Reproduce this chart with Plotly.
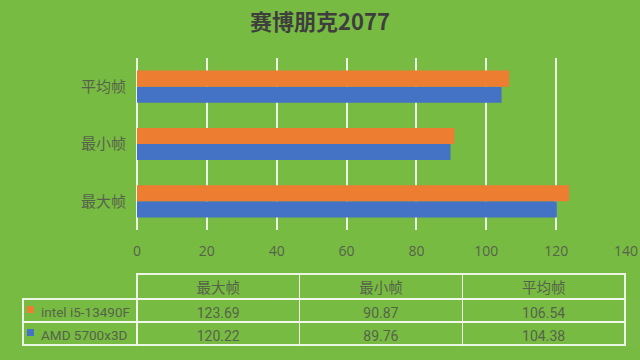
import plotly.graph_objects as go

categories = ["最大帧", "最小帧", "平均帧"]
series_names = ["intel i5-13490F", "AMD 5700x3D"]
series_colors = ["#ED7D31", "#4472C4"]
intel_values = [123.69, 90.87, 106.54]
amd_values = [120.22, 89.76, 104.38]
x_ticks = [0, 20, 40, 60, 80, 100, 120, 140]
title_text = "赛博朋克2077"

BG = "rgb(120,187,66)"
TXT = "#56634b"
LINE = "rgba(240,248,235,0.95)"
W, H = 640, 360

fig = go.Figure()
fig.add_trace(go.Bar(y=categories, x=amd_values, name=series_names[1], orientation="h",
                     marker=dict(color=series_colors[1], line=dict(width=0))))
fig.add_trace(go.Bar(y=categories, x=intel_values, name=series_names[0], orientation="h",
                     marker=dict(color=series_colors[0], line=dict(width=0))))

def fmt(v):
    return f"{v:.2f}"

label_col = ["\u00a0\u00a0\u00a0" + n.replace(" ", "\u00a0") for n in series_names]
cols = [label_col] + [[fmt(intel_values[i]), fmt(amd_values[i])] for i in range(len(categories))]

tbl_left, tbl_top, hdr_h, row_h = 23, 273, 25, 23
tbl_bottom = tbl_top + hdr_h + 2 * row_h

fig.add_trace(go.Table(
    domain=dict(x=[tbl_left / W, 625 / W], y=[1 - (tbl_bottom + 2) / H, 1 - (tbl_top + 1) / H]),
    columnwidth=[114, 163, 163, 163],
    header=dict(values=[""] + categories, height=hdr_h,
                fill=dict(color="rgba(0,0,0,0)"),
                line=dict(color=["rgba(0,0,0,0)", LINE, LINE, LINE], width=1.5),
                align="center",
                font=dict(family="Noto Sans CJK SC", size=14.5, color=TXT)),
    cells=dict(values=cols, height=row_h,
               fill=dict(color="rgba(0,0,0,0)"),
               line=dict(color=LINE, width=1.5),
               align=["left", "center", "center", "center"],
               font=dict(family="Roboto", size=[13.5, 14, 14, 14], color=TXT)),
))

# legend keys inside the table's first column
key = 7
for i, c in enumerate(series_colors):
    yc = tbl_top + hdr_h + row_h * (i + 0.5)
    fig.add_shape(type="rect", xref="paper", yref="paper",
                  x0=(tbl_left + 4) / W, x1=(tbl_left + 4 + key) / W,
                  y0=1 - (yc + key / 2) / H, y1=1 - (yc - key / 2) / H,
                  fillcolor=c, line=dict(width=0), layer="above")

fig.update_layout(
    width=W, height=H,
    margin=dict(l=0, r=0, t=0, b=0, autoexpand=False),
    paper_bgcolor=BG, plot_bgcolor=BG,
    showlegend=False,
    barmode="group", bargap=0.44, bargroupgap=0,
    title=dict(text=f"<b>{title_text}</b>", x=0.5, xanchor="center", y=1 - 22 / H, yanchor="middle",
               font=dict(family="Noto Sans CJK SC", size=22, color="#3e3e3e")),
    xaxis=dict(domain=[137 / W, 626 / W], range=[0, 140], tickvals=x_ticks, automargin=False,
               showgrid=True, gridcolor=LINE, gridwidth=1.5,
               zeroline=True, zerolinecolor=LINE, zerolinewidth=1.5,
               showline=False, ticks="", ticklabelstandoff=11,
               tickfont=dict(family="Open Sans", size=14, color=TXT), fixedrange=True),
    yaxis=dict(domain=[1 - 230 / H, 1 - 58 / H], showgrid=False, zeroline=False, automargin=False,
               ticks="", ticklabelstandoff=10,
               tickfont=dict(family="Noto Sans CJK SC", size=15, color=TXT), fixedrange=True),
)

fig.write_html("out.html")
